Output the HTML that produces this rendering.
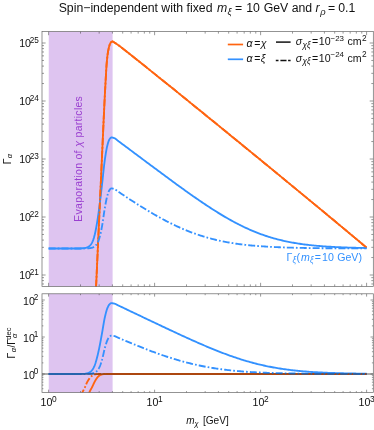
<!DOCTYPE html>
<html><head><meta charset="utf-8"><title>chart</title>
<style>html,body{margin:0;padding:0;background:#fff;}body{width:374px;height:430px;position:relative;overflow:hidden;font-family:"Liberation Sans",sans-serif;}</style>
</head><body>
<svg width="374" height="430" viewBox="0 0 374 430" style="position:absolute;left:0;top:0;will-change:transform">
<defs><clipPath id="c1"><rect x="42.0" y="31.6" width="331.3" height="254.79999999999998"/></clipPath><clipPath id="c2"><rect x="42.0" y="293.8" width="331.3" height="98.69999999999999"/></clipPath></defs>
<rect x="0" y="0" width="374" height="430" fill="#fff"/>
<rect x="48.75" y="31.6" width="63.849999999999994" height="254.79999999999998" fill="#DEC4F0"/>
<rect x="48.75" y="293.8" width="63.849999999999994" height="98.69999999999999" fill="#DEC4F0"/>
<g clip-path="url(#c1)" fill="none" stroke-width="1.85" stroke-linejoin="round">
<path d="M95.50,299.60 L95.65,296.34 L95.80,293.08 L95.94,289.82 L96.09,286.55 L96.24,283.29 L96.39,280.03 L96.54,276.77 L96.69,273.51 L96.83,270.25 L96.98,266.99 L97.13,263.73 L97.28,260.46 L97.43,257.20 L97.58,253.94 L97.72,250.68 L97.87,247.42 L98.02,244.16 L98.17,240.90 L98.32,237.64 L98.46,234.37 L98.61,231.11 L98.76,227.85 L98.91,224.59 L99.06,221.33 L99.21,218.07 L99.35,214.81 L99.50,211.54 L99.65,208.28 L99.80,205.02 L99.95,201.76 L100.10,198.50 L100.24,195.24 L100.39,191.98 L100.54,188.72 L100.69,185.45 L100.84,182.19 L100.98,178.93 L101.13,175.67 L101.28,172.41 L101.43,169.15 L101.58,165.89 L101.73,162.63 L101.87,159.36 L102.02,156.10 L102.17,152.84 L102.32,149.55 L102.47,146.25 L102.62,142.94 L102.76,139.62 L102.91,136.29 L103.06,132.98 L103.21,129.68 L103.36,126.39 L103.51,123.13 L103.65,119.90 L103.80,116.70 L103.95,113.55 L104.10,110.44 L104.25,107.37 L104.39,104.30 L104.54,101.27 L104.69,98.27 L104.84,95.32 L104.99,92.43 L105.14,89.62 L105.28,86.89 L105.43,84.20 L105.58,81.47 L105.73,78.74 L105.88,76.04 L106.03,73.40 L106.17,70.87 L106.32,68.46 L106.47,66.22 L106.62,64.18 L106.77,62.37 L106.91,60.78 L107.06,59.27 L107.21,57.87 L107.36,56.55 L107.51,55.34 L107.66,54.22 L107.80,53.20 L107.95,52.27 L108.10,51.44 L108.25,50.64 L108.40,49.86 L108.55,49.12 L108.69,48.42 L108.84,47.75 L108.99,47.12 L109.14,46.53 L109.29,45.98 L109.43,45.48 L109.58,45.02 L109.73,44.61 L109.88,44.25 L110.03,43.92 L110.18,43.61 L110.32,43.32 L110.47,43.04 L110.62,42.79 L110.77,42.56 L110.92,42.37 L111.07,42.20 L111.21,42.06 L111.36,41.96 L111.51,41.87 L111.66,41.78 L111.81,41.70 L111.95,41.63 L112.10,41.57 L112.25,41.53 L112.40,41.50 L112.55,41.50 L112.70,41.52 L112.84,41.57 L112.99,41.64 L113.14,41.72 L113.29,41.82 L113.44,41.92 L113.59,42.03 L113.73,42.13 L113.88,42.23 L114.03,42.32 L114.18,42.40 L114.33,42.49 L114.47,42.58 L114.62,42.67 L114.77,42.76 L114.92,42.85 L115.07,42.94 L115.22,43.03 L115.36,43.13 L115.51,43.22 L115.66,43.32 L115.81,43.41 L115.96,43.51 L116.11,43.61 L116.25,43.71 L116.40,43.80 L116.55,43.90 L116.70,44.00 L116.85,44.10 L116.99,44.20 L117.14,44.31 L117.29,44.41 L117.44,44.51 L117.59,44.61 L117.74,44.72 L117.88,44.82 L118.03,44.92 L118.18,45.03 L118.33,45.13 L118.48,45.24 L118.63,45.35 L118.77,45.45 L118.92,45.56 L119.07,45.67 L119.22,45.78 L119.37,45.89 L119.52,46.00 L119.66,46.11 L119.81,46.22 L119.96,46.34 L120.11,46.45 L120.26,46.56 L120.40,46.68 L120.55,46.79 L120.70,46.90 L120.85,47.02 L121.00,47.14 L121.15,47.25 L121.29,47.37 L121.44,47.48 L121.59,47.60 L121.74,47.72 L121.89,47.83 L122.04,47.95 L122.18,48.07 L122.33,48.19 L122.48,48.30 L122.63,48.42 L122.78,48.54 L122.92,48.66 L123.07,48.78 L123.22,48.89 L123.37,49.01 L123.52,49.13 L123.67,49.25 L123.81,49.37 L123.96,49.48 L124.11,49.60 L124.26,49.72 L124.41,49.83 L124.56,49.95 L124.70,50.07 L124.85,50.18 L125.00,50.30 L129.09,53.52 L133.19,56.77 L137.28,60.03 L141.38,63.30 L145.47,66.57 L149.57,69.85 L153.66,73.13 L157.76,76.41 L161.85,79.70 L165.95,82.99 L170.04,86.29 L174.14,89.59 L178.23,92.90 L182.33,96.21 L186.42,99.53 L190.52,102.85 L194.61,106.18 L198.71,109.50 L202.80,112.83 L206.90,116.16 L210.99,119.49 L215.09,122.82 L219.18,126.15 L223.28,129.49 L227.37,132.82 L231.47,136.16 L235.56,139.50 L239.66,142.84 L243.75,146.19 L247.85,149.53 L251.94,152.88 L256.04,156.23 L260.13,159.58 L264.23,162.94 L268.32,166.29 L272.42,169.65 L276.51,173.01 L280.61,176.38 L284.70,179.74 L288.80,183.11 L292.89,186.48 L296.99,189.85 L301.08,193.23 L305.18,196.60 L309.27,199.98 L313.37,203.37 L317.46,206.75 L321.56,210.14 L325.65,213.53 L329.75,216.92 L333.84,220.32 L337.94,223.72 L342.03,227.12 L346.13,230.53 L350.22,233.94 L354.32,237.35 L358.41,240.76 L362.51,244.18 L366.60,247.60" stroke="#FF6410"/>
<path d="M48.60,248.50 L53.80,248.50 L59.00,248.50 L64.20,248.50 L69.40,248.50 L74.60,248.50 L79.80,248.50 L85.00,248.03 L85.20,247.99 L85.39,247.95 L85.59,247.91 L85.78,247.86 L85.98,247.82 L86.17,247.76 L86.37,247.71 L86.56,247.65 L86.76,247.59 L86.96,247.52 L87.15,247.44 L87.35,247.37 L87.54,247.28 L87.74,247.19 L87.93,247.10 L88.13,246.99 L88.32,246.88 L88.52,246.76 L88.72,246.64 L88.91,246.50 L89.11,246.36 L89.30,246.20 L89.50,246.04 L89.69,245.86 L89.89,245.67 L90.08,245.47 L90.28,245.25 L90.47,245.03 L90.67,244.78 L90.87,244.52 L91.06,244.25 L91.26,243.95 L91.45,243.64 L91.65,243.31 L91.84,242.96 L92.04,242.59 L92.23,242.20 L92.43,241.78 L92.63,241.34 L92.82,240.87 L93.02,240.38 L93.21,239.86 L93.41,239.31 L93.60,238.73 L93.80,238.12 L93.99,237.47 L94.19,236.80 L94.39,236.08 L94.58,235.34 L94.78,234.55 L94.97,233.72 L95.17,232.86 L95.36,231.95 L95.56,231.01 L95.75,230.03 L95.95,229.01 L96.15,227.96 L96.34,226.88 L96.54,225.77 L96.73,224.64 L96.93,223.48 L97.12,222.29 L97.32,221.09 L97.51,219.85 L97.71,218.59 L97.91,217.31 L98.10,216.00 L98.30,214.66 L98.49,213.30 L98.69,211.91 L98.88,210.49 L99.08,209.04 L99.27,207.56 L99.47,206.06 L99.66,204.52 L99.86,202.96 L100.06,201.37 L100.25,199.76 L100.45,198.13 L100.64,196.48 L100.84,194.82 L101.03,193.15 L101.23,191.46 L101.42,189.76 L101.62,188.06 L101.82,186.36 L102.01,184.65 L102.21,182.92 L102.40,181.14 L102.60,179.32 L102.79,177.48 L102.99,175.63 L103.18,173.77 L103.38,171.93 L103.58,170.11 L103.77,168.33 L103.97,166.59 L104.16,164.91 L104.36,163.30 L104.55,161.77 L104.75,160.34 L104.94,158.99 L105.14,157.66 L105.34,156.36 L105.53,155.08 L105.73,153.84 L105.92,152.64 L106.12,151.48 L106.31,150.37 L106.51,149.31 L106.70,148.30 L106.90,147.36 L107.09,146.47 L107.29,145.66 L107.49,144.92 L107.68,144.20 L107.88,143.50 L108.07,142.82 L108.27,142.18 L108.46,141.58 L108.66,141.02 L108.85,140.51 L109.05,140.05 L109.25,139.65 L109.44,139.32 L109.64,139.05 L109.83,138.78 L110.03,138.52 L110.22,138.28 L110.42,138.05 L110.61,137.86 L110.81,137.69 L111.01,137.57 L111.20,137.49 L111.40,137.46 L111.59,137.47 L111.79,137.48 L111.98,137.50 L112.18,137.53 L112.37,137.57 L112.57,137.61 L112.77,137.65 L112.96,137.71 L113.16,137.76 L113.35,137.82 L113.55,137.89 L113.74,137.95 L113.94,138.02 L114.13,138.09 L114.33,138.17 L114.53,138.24 L114.72,138.32 L114.92,138.42 L115.11,138.53 L115.31,138.65 L115.50,138.78 L115.70,138.92 L115.89,139.07 L116.09,139.23 L116.28,139.39 L116.48,139.56 L116.68,139.73 L116.87,139.90 L117.07,140.06 L117.26,140.23 L117.46,140.40 L117.65,140.56 L117.85,140.71 L118.04,140.86 L118.24,141.00 L118.44,141.15 L118.63,141.30 L118.83,141.44 L119.02,141.59 L119.22,141.73 L119.41,141.88 L119.61,142.02 L119.80,142.17 L120.00,142.31 L121.24,143.23 L122.48,144.15 L123.72,145.08 L124.96,146.00 L126.20,146.92 L127.44,147.85 L128.67,148.77 L129.91,149.70 L131.15,150.62 L132.39,151.54 L133.63,152.47 L134.87,153.39 L136.11,154.32 L137.35,155.24 L138.59,156.17 L139.83,157.09 L141.07,158.02 L142.31,158.94 L143.54,159.87 L144.78,160.79 L146.02,161.72 L147.26,162.64 L148.50,163.56 L149.74,164.49 L150.98,165.41 L152.22,166.33 L153.46,167.25 L154.70,168.18 L155.94,169.10 L157.18,170.02 L158.42,170.94 L159.65,171.86 L160.89,172.79 L162.13,173.71 L163.37,174.62 L164.61,175.54 L165.85,176.46 L167.09,177.37 L168.33,178.29 L169.57,179.20 L170.81,180.11 L172.05,181.02 L173.29,181.93 L174.52,182.83 L175.76,183.74 L177.00,184.64 L178.24,185.54 L179.48,186.44 L180.72,187.33 L181.96,188.23 L183.20,189.12 L184.44,190.01 L185.68,190.89 L186.92,191.77 L188.16,192.66 L189.39,193.53 L190.63,194.41 L191.87,195.28 L193.11,196.15 L194.35,197.01 L195.59,197.87 L196.83,198.73 L198.07,199.58 L199.31,200.43 L200.55,201.28 L201.79,202.12 L203.03,202.96 L204.27,203.79 L205.50,204.62 L206.74,205.44 L207.98,206.26 L209.22,207.07 L210.46,207.88 L211.70,208.68 L212.94,209.48 L214.18,210.27 L215.42,211.05 L216.66,211.83 L217.90,212.60 L219.14,213.36 L220.37,214.12 L221.61,214.87 L222.85,215.61 L224.09,216.35 L225.33,217.08 L226.57,217.80 L227.81,218.51 L229.05,219.21 L230.29,219.91 L231.53,220.60 L232.77,221.28 L234.01,221.95 L235.25,222.61 L236.48,223.26 L237.72,223.91 L238.96,224.54 L240.20,225.16 L241.44,225.78 L242.68,226.39 L243.92,226.98 L245.16,227.57 L246.40,228.15 L247.64,228.71 L248.88,229.27 L250.12,229.82 L251.35,230.35 L252.59,230.88 L253.83,231.40 L255.07,231.90 L256.31,232.40 L257.55,232.89 L258.79,233.36 L260.03,233.83 L261.27,234.28 L262.51,234.73 L263.75,235.16 L264.99,235.59 L266.23,236.00 L267.46,236.41 L268.70,236.80 L269.94,237.19 L271.18,237.56 L272.42,237.93 L273.66,238.28 L274.90,238.63 L276.14,238.97 L277.38,239.29 L278.62,239.61 L279.86,239.92 L281.10,240.22 L282.33,240.52 L283.57,240.80 L284.81,241.07 L286.05,241.34 L287.29,241.60 L288.53,241.85 L289.77,242.09 L291.01,242.33 L292.25,242.56 L293.49,242.78 L294.73,242.99 L295.97,243.20 L297.21,243.40 L298.44,243.59 L299.68,243.78 L300.92,243.96 L302.16,244.13 L303.40,244.30 L304.64,244.46 L305.88,244.62 L307.12,244.77 L308.36,244.92 L309.60,245.06 L310.84,245.19 L312.08,245.32 L313.31,245.45 L314.55,245.57 L315.79,245.69 L317.03,245.80 L318.27,245.91 L319.51,246.01 L320.75,246.11 L321.99,246.21 L323.23,246.30 L324.47,246.39 L325.71,246.48 L326.95,246.56 L328.18,246.64 L329.42,246.72 L330.66,246.79 L331.90,246.86 L333.14,246.93 L334.38,246.99 L335.62,247.06 L336.86,247.12 L338.10,247.17 L339.34,247.23 L340.58,247.28 L341.82,247.33 L343.06,247.38 L344.29,247.43 L345.53,247.47 L346.77,247.52 L348.01,247.56 L349.25,247.60 L350.49,247.64 L351.73,247.67 L352.97,247.71 L354.21,247.74 L355.45,247.78 L356.69,247.81 L357.93,247.84 L359.16,247.86 L360.40,247.89 L361.64,247.92 L362.88,247.94 L364.12,247.97 L365.36,247.99 L366.60,248.01" stroke="#3391FF"/>
<path d="M95.50,299.60 L95.65,296.34 L95.80,293.08 L95.94,289.82 L96.09,286.55 L96.24,283.29 L96.39,280.03 L96.54,276.77 L96.69,273.51 L96.83,270.25 L96.98,266.99 L97.13,263.73 L97.28,260.46 L97.43,257.20 L97.58,253.94 L97.72,250.68 L97.87,247.42 L98.02,244.16 L98.17,240.90 L98.32,237.64 L98.46,234.37 L98.61,231.11 L98.76,227.85 L98.91,224.59 L99.06,221.33 L99.21,218.07 L99.35,214.81 L99.50,211.54 L99.65,208.28 L99.80,205.02 L99.95,201.76 L100.10,198.50 L100.24,195.24 L100.39,191.98 L100.54,188.72 L100.69,185.45 L100.84,182.19 L100.98,178.93 L101.13,175.67 L101.28,172.41 L101.43,169.15 L101.58,165.89 L101.73,162.63 L101.87,159.36 L102.02,156.10 L102.17,152.84 L102.32,149.55 L102.47,146.25 L102.62,142.94 L102.76,139.62 L102.91,136.29 L103.06,132.98 L103.21,129.68 L103.36,126.39 L103.51,123.13 L103.65,119.90 L103.80,116.70 L103.95,113.55 L104.10,110.44 L104.25,107.37 L104.39,104.30 L104.54,101.27 L104.69,98.27 L104.84,95.32 L104.99,92.43 L105.14,89.62 L105.28,86.89 L105.43,84.20 L105.58,81.47 L105.73,78.74 L105.88,76.04 L106.03,73.40 L106.17,70.87 L106.32,68.46 L106.47,66.22 L106.62,64.18 L106.77,62.37 L106.91,60.78 L107.06,59.27 L107.21,57.87 L107.36,56.55 L107.51,55.34 L107.66,54.22 L107.80,53.20 L107.95,52.27 L108.10,51.44 L108.25,50.64 L108.40,49.86 L108.55,49.12 L108.69,48.42 L108.84,47.75 L108.99,47.12 L109.14,46.53 L109.29,45.98 L109.43,45.48 L109.58,45.02 L109.73,44.61 L109.88,44.25 L110.03,43.92 L110.18,43.61 L110.32,43.32 L110.47,43.04 L110.62,42.79 L110.77,42.56 L110.92,42.37 L111.07,42.20 L111.21,42.06 L111.36,41.96 L111.51,41.87 L111.66,41.78 L111.81,41.70 L111.95,41.63 L112.10,41.57 L112.25,41.53 L112.40,41.50 L112.55,41.50 L112.70,41.52 L112.84,41.57 L112.99,41.64 L113.14,41.72 L113.29,41.82 L113.44,41.92 L113.59,42.03 L113.73,42.13 L113.88,42.23 L114.03,42.32 L114.18,42.40 L114.33,42.49 L114.47,42.58 L114.62,42.67 L114.77,42.76 L114.92,42.85 L115.07,42.94 L115.22,43.03 L115.36,43.13 L115.51,43.22 L115.66,43.32 L115.81,43.41 L115.96,43.51 L116.11,43.61 L116.25,43.71 L116.40,43.80 L116.55,43.90 L116.70,44.00 L116.85,44.10 L116.99,44.20 L117.14,44.31 L117.29,44.41 L117.44,44.51 L117.59,44.61 L117.74,44.72 L117.88,44.82 L118.03,44.92 L118.18,45.03 L118.33,45.13 L118.48,45.24 L118.63,45.35 L118.77,45.45 L118.92,45.56 L119.07,45.67 L119.22,45.78 L119.37,45.89 L119.52,46.00 L119.66,46.11 L119.81,46.22 L119.96,46.34 L120.11,46.45 L120.26,46.56 L120.40,46.68 L120.55,46.79 L120.70,46.90 L120.85,47.02 L121.00,47.14 L121.15,47.25 L121.29,47.37 L121.44,47.48 L121.59,47.60 L121.74,47.72 L121.89,47.83 L122.04,47.95 L122.18,48.07 L122.33,48.19 L122.48,48.30 L122.63,48.42 L122.78,48.54 L122.92,48.66 L123.07,48.78 L123.22,48.89 L123.37,49.01 L123.52,49.13 L123.67,49.25 L123.81,49.37 L123.96,49.48 L124.11,49.60 L124.26,49.72 L124.41,49.83 L124.56,49.95 L124.70,50.07 L124.85,50.18 L125.00,50.30 L129.09,53.52 L133.19,56.77 L137.28,60.03 L141.38,63.30 L145.47,66.57 L149.57,69.85 L153.66,73.13 L157.76,76.41 L161.85,79.70 L165.95,82.99 L170.04,86.29 L174.14,89.59 L178.23,92.90 L182.33,96.21 L186.42,99.53 L190.52,102.85 L194.61,106.18 L198.71,109.50 L202.80,112.83 L206.90,116.16 L210.99,119.49 L215.09,122.82 L219.18,126.15 L223.28,129.49 L227.37,132.82 L231.47,136.16 L235.56,139.50 L239.66,142.84 L243.75,146.19 L247.85,149.53 L251.94,152.88 L256.04,156.23 L260.13,159.58 L264.23,162.94 L268.32,166.29 L272.42,169.65 L276.51,173.01 L280.61,176.38 L284.70,179.74 L288.80,183.11 L292.89,186.48 L296.99,189.85 L301.08,193.23 L305.18,196.60 L309.27,199.98 L313.37,203.37 L317.46,206.75 L321.56,210.14 L325.65,213.53 L329.75,216.92 L333.84,220.32 L337.94,223.72 L342.03,227.12 L346.13,230.53 L350.22,233.94 L354.32,237.35 L358.41,240.76 L362.51,244.18 L366.60,247.60" stroke="#FF6410" stroke-dasharray="7.0 2.1 1.7 2.1"/>
<path d="M48.60,248.50 L53.80,248.50 L59.00,248.50 L64.20,248.50 L69.40,248.50 L74.60,248.50 L79.80,248.50 L85.00,248.44 L85.20,248.44 L85.39,248.43 L85.59,248.43 L85.78,248.42 L85.98,248.42 L86.17,248.41 L86.37,248.40 L86.56,248.40 L86.76,248.39 L86.96,248.38 L87.15,248.37 L87.35,248.36 L87.54,248.35 L87.74,248.34 L87.93,248.33 L88.13,248.31 L88.32,248.30 L88.52,248.28 L88.72,248.27 L88.91,248.25 L89.11,248.23 L89.30,248.21 L89.50,248.19 L89.69,248.16 L89.89,248.14 L90.08,248.11 L90.28,248.08 L90.47,248.05 L90.67,248.02 L90.87,247.98 L91.06,247.94 L91.26,247.90 L91.45,247.86 L91.65,247.81 L91.84,247.76 L92.04,247.70 L92.23,247.64 L92.43,247.58 L92.63,247.51 L92.82,247.44 L93.02,247.36 L93.21,247.28 L93.41,247.19 L93.60,247.09 L93.80,246.98 L93.99,246.87 L94.19,246.75 L94.39,246.62 L94.58,246.48 L94.78,246.33 L94.97,246.17 L95.17,245.99 L95.36,245.80 L95.56,245.60 L95.75,245.39 L95.95,245.15 L96.15,244.91 L96.34,244.65 L96.54,244.37 L96.73,244.08 L96.93,243.77 L97.12,243.44 L97.32,243.09 L97.51,242.73 L97.71,242.34 L97.91,241.93 L98.10,241.50 L98.30,241.04 L98.49,240.56 L98.69,240.05 L98.88,239.52 L99.08,238.95 L99.27,238.35 L99.47,237.72 L99.66,237.05 L99.86,236.35 L100.06,235.61 L100.25,234.83 L100.45,234.02 L100.64,233.18 L100.84,232.29 L101.03,231.38 L101.23,230.43 L101.42,229.45 L101.62,228.43 L101.82,227.39 L102.01,226.32 L102.21,225.20 L102.40,224.03 L102.60,222.80 L102.79,221.53 L102.99,220.22 L103.18,218.88 L103.38,217.53 L103.58,216.16 L103.77,214.80 L103.97,213.45 L104.16,212.13 L104.36,210.84 L104.55,209.61 L104.75,208.44 L104.94,207.32 L105.14,206.22 L105.34,205.12 L105.53,204.05 L105.73,202.99 L105.92,201.96 L106.12,200.96 L106.31,199.99 L106.51,199.06 L106.70,198.18 L106.90,197.34 L107.09,196.56 L107.29,195.84 L107.49,195.17 L107.68,194.53 L107.88,193.90 L108.07,193.29 L108.27,192.71 L108.46,192.17 L108.66,191.66 L108.85,191.19 L109.05,190.78 L109.25,190.42 L109.44,190.11 L109.64,189.86 L109.83,189.62 L110.03,189.38 L110.22,189.16 L110.42,188.95 L110.61,188.77 L110.81,188.62 L111.01,188.51 L111.20,188.44 L111.40,188.41 L111.59,188.41 L111.79,188.43 L111.98,188.45 L112.18,188.47 L112.37,188.50 L112.57,188.54 L112.77,188.59 L112.96,188.63 L113.16,188.69 L113.35,188.74 L113.55,188.80 L113.74,188.86 L113.94,188.92 L114.13,188.99 L114.33,189.05 L114.53,189.12 L114.72,189.20 L114.92,189.28 L115.11,189.38 L115.31,189.50 L115.50,189.62 L115.70,189.75 L115.89,189.89 L116.09,190.03 L116.28,190.18 L116.48,190.33 L116.68,190.48 L116.87,190.64 L117.07,190.79 L117.26,190.94 L117.46,191.09 L117.65,191.24 L117.85,191.38 L118.04,191.51 L118.24,191.65 L118.44,191.78 L118.63,191.91 L118.83,192.04 L119.02,192.17 L119.22,192.30 L119.41,192.44 L119.61,192.57 L119.80,192.70 L120.00,192.83 L121.24,193.66 L122.48,194.49 L123.72,195.32 L124.96,196.14 L126.20,196.96 L127.44,197.78 L128.67,198.59 L129.91,199.40 L131.15,200.21 L132.39,201.01 L133.63,201.81 L134.87,202.60 L136.11,203.39 L137.35,204.18 L138.59,204.96 L139.83,205.74 L141.07,206.52 L142.31,207.29 L143.54,208.05 L144.78,208.81 L146.02,209.56 L147.26,210.31 L148.50,211.05 L149.74,211.79 L150.98,212.52 L152.22,213.25 L153.46,213.97 L154.70,214.68 L155.94,215.39 L157.18,216.09 L158.42,216.79 L159.65,217.47 L160.89,218.16 L162.13,218.83 L163.37,219.50 L164.61,220.16 L165.85,220.81 L167.09,221.45 L168.33,222.09 L169.57,222.72 L170.81,223.34 L172.05,223.95 L173.29,224.55 L174.52,225.15 L175.76,225.73 L177.00,226.31 L178.24,226.88 L179.48,227.44 L180.72,227.99 L181.96,228.53 L183.20,229.06 L184.44,229.59 L185.68,230.10 L186.92,230.61 L188.16,231.11 L189.39,231.59 L190.63,232.07 L191.87,232.54 L193.11,233.00 L194.35,233.45 L195.59,233.89 L196.83,234.32 L198.07,234.75 L199.31,235.16 L200.55,235.57 L201.79,235.96 L203.03,236.35 L204.27,236.73 L205.50,237.09 L206.74,237.45 L207.98,237.81 L209.22,238.15 L210.46,238.48 L211.70,238.81 L212.94,239.12 L214.18,239.43 L215.42,239.73 L216.66,240.03 L217.90,240.31 L219.14,240.59 L220.37,240.86 L221.61,241.12 L222.85,241.37 L224.09,241.62 L225.33,241.86 L226.57,242.09 L227.81,242.31 L229.05,242.53 L230.29,242.74 L231.53,242.95 L232.77,243.15 L234.01,243.34 L235.25,243.53 L236.48,243.71 L237.72,243.88 L238.96,244.05 L240.20,244.21 L241.44,244.37 L242.68,244.52 L243.92,244.67 L245.16,244.81 L246.40,244.95 L247.64,245.09 L248.88,245.21 L250.12,245.34 L251.35,245.46 L252.59,245.57 L253.83,245.69 L255.07,245.79 L256.31,245.90 L257.55,246.00 L258.79,246.09 L260.03,246.19 L261.27,246.28 L262.51,246.36 L263.75,246.45 L264.99,246.53 L266.23,246.61 L267.46,246.68 L268.70,246.75 L269.94,246.82 L271.18,246.89 L272.42,246.95 L273.66,247.01 L274.90,247.07 L276.14,247.13 L277.38,247.18 L278.62,247.24 L279.86,247.29 L281.10,247.34 L282.33,247.38 L283.57,247.43 L284.81,247.47 L286.05,247.51 L287.29,247.55 L288.53,247.59 L289.77,247.63 L291.01,247.66 L292.25,247.70 L293.49,247.73 L294.73,247.76 L295.97,247.79 L297.21,247.82 L298.44,247.85 L299.68,247.88 L300.92,247.90 L302.16,247.93 L303.40,247.95 L304.64,247.97 L305.88,247.99 L307.12,248.02 L308.36,248.04 L309.60,248.06 L310.84,248.07 L312.08,248.09 L313.31,248.11 L314.55,248.12 L315.79,248.14 L317.03,248.16 L318.27,248.17 L319.51,248.18 L320.75,248.20 L321.99,248.21 L323.23,248.22 L324.47,248.23 L325.71,248.25 L326.95,248.26 L328.18,248.27 L329.42,248.28 L330.66,248.29 L331.90,248.29 L333.14,248.30 L334.38,248.31 L335.62,248.32 L336.86,248.33 L338.10,248.33 L339.34,248.34 L340.58,248.35 L341.82,248.36 L343.06,248.36 L344.29,248.37 L345.53,248.37 L346.77,248.38 L348.01,248.38 L349.25,248.39 L350.49,248.39 L351.73,248.40 L352.97,248.40 L354.21,248.41 L355.45,248.41 L356.69,248.41 L357.93,248.42 L359.16,248.42 L360.40,248.43 L361.64,248.43 L362.88,248.43 L364.12,248.43 L365.36,248.44 L366.60,248.44" stroke="#3391FF" stroke-dasharray="7.0 2.1 1.7 2.1"/>
</g>
<g clip-path="url(#c2)" fill="none" stroke-width="1.85" stroke-linejoin="round">
<path d="M88.30,396.00 L88.50,395.28 L88.70,394.57 L88.90,393.89 L89.10,393.25 L89.30,392.68 L89.49,392.16 L89.69,391.69 L89.89,391.24 L90.09,390.83 L90.29,390.43 L90.49,390.05 L90.69,389.68 L90.89,389.32 L91.09,388.97 L91.29,388.62 L91.49,388.26 L91.69,387.90 L91.88,387.52 L92.08,387.13 L92.28,386.73 L92.48,386.31 L92.68,385.89 L92.88,385.46 L93.08,385.03 L93.28,384.60 L93.48,384.17 L93.68,383.75 L93.88,383.33 L94.08,382.91 L94.27,382.51 L94.47,382.12 L94.67,381.75 L94.87,381.39 L95.07,381.03 L95.27,380.67 L95.47,380.32 L95.67,379.98 L95.87,379.65 L96.07,379.33 L96.27,379.02 L96.47,378.73 L96.66,378.45 L96.86,378.18 L97.06,377.92 L97.26,377.66 L97.46,377.41 L97.66,377.17 L97.86,376.94 L98.06,376.72 L98.26,376.51 L98.46,376.32 L98.66,376.14 L98.86,375.97 L99.05,375.81 L99.25,375.66 L99.45,375.51 L99.65,375.37 L99.85,375.24 L100.05,375.12 L100.25,375.02 L100.45,374.92 L100.65,374.84 L100.85,374.76 L101.05,374.69 L101.25,374.62 L101.44,374.55 L101.64,374.49 L101.84,374.44 L102.04,374.39 L102.24,374.35 L102.44,374.31 L102.64,374.28 L102.84,374.25 L103.04,374.22 L103.24,374.19 L103.44,374.17 L103.64,374.15 L103.83,374.12 L104.03,374.11 L104.23,374.09 L104.43,374.07 L104.63,374.06 L104.83,374.05 L105.03,374.05 L105.23,374.05 L105.43,374.04 L105.63,374.04 L105.83,374.03 L106.03,374.03 L106.22,374.03 L106.42,374.03 L106.62,374.02 L106.82,374.02 L107.02,374.02 L107.22,374.02 L107.42,374.01 L107.62,374.01 L107.82,374.01 L108.02,374.01 L108.22,374.01 L108.42,374.01 L108.61,374.00 L108.81,374.00 L109.01,374.00 L109.21,374.00 L109.41,374.00 L109.61,374.00 L109.81,374.00 L110.01,374.00 L110.21,374.00 L110.41,374.00 L110.61,374.00 L110.81,374.00 L111.00,374.00 L111.20,374.00 L111.40,374.00 L111.60,374.00 L111.80,374.00 L112.00,374.00 L196.87,374.00 L281.73,374.00 L366.60,374.00" stroke="#FF6410"/>
<path d="M48.60,374.00 L53.80,374.00 L59.00,374.00 L64.20,374.00 L69.40,374.00 L74.60,374.00 L79.80,374.00 L85.00,373.70 L85.20,373.67 L85.39,373.65 L85.59,373.62 L85.78,373.59 L85.98,373.56 L86.17,373.53 L86.37,373.50 L86.56,373.46 L86.76,373.42 L86.96,373.37 L87.15,373.33 L87.35,373.28 L87.54,373.22 L87.74,373.17 L87.93,373.10 L88.13,373.04 L88.32,372.97 L88.52,372.89 L88.72,372.81 L88.91,372.73 L89.11,372.63 L89.30,372.53 L89.50,372.43 L89.69,372.32 L89.89,372.20 L90.08,372.07 L90.28,371.93 L90.47,371.78 L90.67,371.63 L90.87,371.46 L91.06,371.29 L91.26,371.10 L91.45,370.90 L91.65,370.69 L91.84,370.47 L92.04,370.23 L92.23,369.98 L92.43,369.71 L92.63,369.43 L92.82,369.13 L93.02,368.82 L93.21,368.49 L93.41,368.14 L93.60,367.77 L93.80,367.38 L93.99,366.97 L94.19,366.53 L94.39,366.08 L94.58,365.60 L94.78,365.10 L94.97,364.57 L95.17,364.02 L95.36,363.44 L95.56,362.84 L95.75,362.21 L95.95,361.57 L96.15,360.90 L96.34,360.21 L96.54,359.50 L96.73,358.78 L96.93,358.04 L97.12,357.28 L97.32,356.51 L97.51,355.72 L97.71,354.92 L97.91,354.10 L98.10,353.26 L98.30,352.41 L98.49,351.54 L98.69,350.65 L98.88,349.75 L99.08,348.83 L99.27,347.88 L99.47,346.92 L99.66,345.94 L99.86,344.95 L100.06,343.94 L100.25,342.91 L100.45,341.87 L100.64,340.82 L100.84,339.76 L101.03,338.69 L101.23,337.61 L101.42,336.53 L101.62,335.45 L101.82,334.36 L102.01,333.27 L102.21,332.16 L102.40,331.03 L102.60,329.87 L102.79,328.69 L102.99,327.51 L103.18,326.33 L103.38,325.16 L103.58,323.99 L103.77,322.85 L103.97,321.75 L104.16,320.67 L104.36,319.65 L104.55,318.67 L104.75,317.76 L104.94,316.90 L105.14,316.05 L105.34,315.22 L105.53,314.41 L105.73,313.61 L105.92,312.85 L106.12,312.11 L106.31,311.40 L106.51,310.72 L106.70,310.08 L106.90,309.48 L107.09,308.91 L107.29,308.40 L107.49,307.92 L107.68,307.46 L107.88,307.02 L108.07,306.59 L108.27,306.18 L108.46,305.79 L108.66,305.43 L108.85,305.11 L109.05,304.82 L109.25,304.56 L109.44,304.35 L109.64,304.18 L109.83,304.01 L110.03,303.84 L110.22,303.68 L110.42,303.54 L110.61,303.42 L110.81,303.31 L111.01,303.23 L111.20,303.18 L111.40,303.17 L111.59,303.17 L111.79,303.18 L111.98,303.19 L112.18,303.21 L112.37,303.23 L112.57,303.26 L112.77,303.29 L112.96,303.32 L113.16,303.36 L113.35,303.40 L113.55,303.44 L113.74,303.48 L113.94,303.52 L114.13,303.57 L114.33,303.61 L114.53,303.66 L114.72,303.71 L114.92,303.77 L115.11,303.84 L115.31,303.92 L115.50,304.01 L115.70,304.10 L115.89,304.19 L116.09,304.29 L116.28,304.40 L116.48,304.50 L116.68,304.61 L116.87,304.72 L117.07,304.83 L117.26,304.93 L117.46,305.04 L117.65,305.14 L117.85,305.24 L118.04,305.33 L118.24,305.43 L118.44,305.52 L118.63,305.61 L118.83,305.70 L119.02,305.80 L119.22,305.89 L119.41,305.98 L119.61,306.07 L119.80,306.17 L120.00,306.26 L121.24,306.85 L122.48,307.44 L123.72,308.02 L124.96,308.61 L126.20,309.20 L127.44,309.79 L128.67,310.38 L129.91,310.97 L131.15,311.56 L132.39,312.15 L133.63,312.74 L134.87,313.33 L136.11,313.92 L137.35,314.51 L138.59,315.10 L139.83,315.69 L141.07,316.28 L142.31,316.87 L143.54,317.46 L144.78,318.05 L146.02,318.64 L147.26,319.23 L148.50,319.82 L149.74,320.40 L150.98,320.99 L152.22,321.58 L153.46,322.17 L154.70,322.76 L155.94,323.35 L157.18,323.94 L158.42,324.52 L159.65,325.11 L160.89,325.70 L162.13,326.29 L163.37,326.87 L164.61,327.46 L165.85,328.04 L167.09,328.63 L168.33,329.21 L169.57,329.79 L170.81,330.37 L172.05,330.95 L173.29,331.53 L174.52,332.11 L175.76,332.69 L177.00,333.26 L178.24,333.84 L179.48,334.41 L180.72,334.98 L181.96,335.55 L183.20,336.12 L184.44,336.68 L185.68,337.25 L186.92,337.81 L188.16,338.37 L189.39,338.93 L190.63,339.49 L191.87,340.05 L193.11,340.60 L194.35,341.15 L195.59,341.70 L196.83,342.25 L198.07,342.80 L199.31,343.34 L200.55,343.88 L201.79,344.41 L203.03,344.95 L204.27,345.48 L205.50,346.01 L206.74,346.53 L207.98,347.05 L209.22,347.57 L210.46,348.09 L211.70,348.60 L212.94,349.11 L214.18,349.61 L215.42,350.11 L216.66,350.61 L217.90,351.10 L219.14,351.58 L220.37,352.07 L221.61,352.55 L222.85,353.02 L224.09,353.49 L225.33,353.95 L226.57,354.41 L227.81,354.87 L229.05,355.32 L230.29,355.76 L231.53,356.20 L232.77,356.63 L234.01,357.06 L235.25,357.48 L236.48,357.90 L237.72,358.31 L238.96,358.71 L240.20,359.11 L241.44,359.51 L242.68,359.89 L243.92,360.27 L245.16,360.65 L246.40,361.02 L247.64,361.38 L248.88,361.73 L250.12,362.08 L251.35,362.42 L252.59,362.76 L253.83,363.09 L255.07,363.41 L256.31,363.73 L257.55,364.04 L258.79,364.34 L260.03,364.64 L261.27,364.93 L262.51,365.21 L263.75,365.49 L264.99,365.76 L266.23,366.03 L267.46,366.29 L268.70,366.54 L269.94,366.78 L271.18,367.02 L272.42,367.26 L273.66,367.48 L274.90,367.70 L276.14,367.92 L277.38,368.13 L278.62,368.33 L279.86,368.53 L281.10,368.72 L282.33,368.91 L283.57,369.09 L284.81,369.26 L286.05,369.43 L287.29,369.60 L288.53,369.76 L289.77,369.91 L291.01,370.06 L292.25,370.21 L293.49,370.35 L294.73,370.49 L295.97,370.62 L297.21,370.74 L298.44,370.87 L299.68,370.99 L300.92,371.10 L302.16,371.21 L303.40,371.32 L304.64,371.42 L305.88,371.52 L307.12,371.62 L308.36,371.71 L309.60,371.80 L310.84,371.89 L312.08,371.97 L313.31,372.05 L314.55,372.13 L315.79,372.21 L317.03,372.28 L318.27,372.35 L319.51,372.41 L320.75,372.48 L321.99,372.54 L323.23,372.60 L324.47,372.66 L325.71,372.71 L326.95,372.76 L328.18,372.81 L329.42,372.86 L330.66,372.91 L331.90,372.95 L333.14,373.00 L334.38,373.04 L335.62,373.08 L336.86,373.12 L338.10,373.15 L339.34,373.19 L340.58,373.22 L341.82,373.26 L343.06,373.29 L344.29,373.32 L345.53,373.35 L346.77,373.37 L348.01,373.40 L349.25,373.43 L350.49,373.45 L351.73,373.47 L352.97,373.50 L354.21,373.52 L355.45,373.54 L356.69,373.56 L357.93,373.58 L359.16,373.59 L360.40,373.61 L361.64,373.63 L362.88,373.64 L364.12,373.66 L365.36,373.67 L366.60,373.69" stroke="#3391FF"/>
<path d="M80.80,396.00 L80.99,395.54 L81.19,395.09 L81.38,394.64 L81.58,394.20 L81.77,393.76 L81.97,393.33 L82.16,392.91 L82.36,392.49 L82.55,392.08 L82.75,391.67 L82.94,391.28 L83.14,390.90 L83.33,390.52 L83.53,390.14 L83.72,389.76 L83.92,389.38 L84.11,389.00 L84.31,388.61 L84.50,388.21 L84.70,387.80 L84.89,387.38 L85.09,386.94 L85.28,386.48 L85.48,386.02 L85.67,385.55 L85.87,385.08 L86.06,384.61 L86.26,384.14 L86.45,383.68 L86.65,383.23 L86.84,382.80 L87.04,382.39 L87.23,382.01 L87.43,381.65 L87.62,381.31 L87.82,380.97 L88.01,380.64 L88.21,380.32 L88.40,380.01 L88.60,379.71 L88.79,379.42 L88.99,379.13 L89.18,378.86 L89.38,378.59 L89.57,378.34 L89.77,378.09 L89.96,377.86 L90.16,377.63 L90.35,377.41 L90.55,377.20 L90.74,376.98 L90.94,376.77 L91.13,376.57 L91.33,376.37 L91.52,376.19 L91.72,376.01 L91.91,375.84 L92.11,375.69 L92.30,375.54 L92.50,375.42 L92.69,375.30 L92.89,375.20 L93.08,375.10 L93.28,375.01 L93.47,374.92 L93.67,374.83 L93.86,374.75 L94.06,374.67 L94.25,374.60 L94.45,374.53 L94.64,374.47 L94.84,374.42 L95.03,374.37 L95.23,374.33 L95.42,374.30 L95.62,374.27 L95.81,374.24 L96.01,374.21 L96.20,374.19 L96.40,374.17 L96.59,374.14 L96.79,374.12 L96.98,374.11 L97.18,374.09 L97.37,374.08 L97.57,374.07 L97.76,374.06 L97.96,374.05 L98.15,374.05 L98.35,374.04 L98.54,374.04 L98.74,374.03 L98.93,374.03 L99.13,374.03 L99.32,374.02 L99.52,374.02 L99.71,374.02 L99.91,374.01 L100.10,374.01 L100.30,374.01 L100.49,374.01 L100.69,374.01 L100.88,374.00 L101.08,374.00 L101.27,374.00 L101.47,374.00 L101.66,374.00 L101.86,374.00 L102.05,374.00 L102.25,374.00 L102.44,374.00 L102.64,374.00 L102.83,374.00 L103.03,374.00 L103.22,374.00 L103.42,374.00 L103.61,374.00 L103.81,374.00 L104.00,374.00 L191.53,374.00 L279.07,374.00 L366.60,374.00" stroke="#FF6410" stroke-dasharray="7.0 2.1 1.7 2.1"/>
<path d="M48.60,374.00 L53.80,374.00 L59.00,374.00 L64.20,374.00 L69.40,374.00 L74.60,374.00 L79.80,374.00 L85.00,373.96 L85.20,373.96 L85.39,373.96 L85.59,373.95 L85.78,373.95 L85.98,373.95 L86.17,373.94 L86.37,373.94 L86.56,373.93 L86.76,373.93 L86.96,373.92 L87.15,373.92 L87.35,373.91 L87.54,373.90 L87.74,373.90 L87.93,373.89 L88.13,373.88 L88.32,373.87 L88.52,373.86 L88.72,373.85 L88.91,373.84 L89.11,373.83 L89.30,373.81 L89.50,373.80 L89.69,373.79 L89.89,373.77 L90.08,373.75 L90.28,373.73 L90.47,373.71 L90.67,373.69 L90.87,373.67 L91.06,373.64 L91.26,373.62 L91.45,373.59 L91.65,373.56 L91.84,373.53 L92.04,373.49 L92.23,373.45 L92.43,373.41 L92.63,373.37 L92.82,373.32 L93.02,373.27 L93.21,373.22 L93.41,373.16 L93.60,373.10 L93.80,373.03 L93.99,372.96 L94.19,372.88 L94.39,372.80 L94.58,372.71 L94.78,372.62 L94.97,372.51 L95.17,372.40 L95.36,372.28 L95.56,372.15 L95.75,372.01 L95.95,371.87 L96.15,371.71 L96.34,371.54 L96.54,371.36 L96.73,371.18 L96.93,370.98 L97.12,370.77 L97.32,370.55 L97.51,370.32 L97.71,370.07 L97.91,369.81 L98.10,369.53 L98.30,369.24 L98.49,368.94 L98.69,368.61 L98.88,368.27 L99.08,367.91 L99.27,367.53 L99.47,367.12 L99.66,366.70 L99.86,366.25 L100.06,365.78 L100.25,365.28 L100.45,364.76 L100.64,364.22 L100.84,363.66 L101.03,363.08 L101.23,362.47 L101.42,361.85 L101.62,361.20 L101.82,360.53 L102.01,359.85 L102.21,359.14 L102.40,358.39 L102.60,357.61 L102.79,356.79 L102.99,355.96 L103.18,355.11 L103.38,354.24 L103.58,353.37 L103.77,352.50 L103.97,351.64 L104.16,350.80 L104.36,349.98 L104.55,349.19 L104.75,348.44 L104.94,347.73 L105.14,347.03 L105.34,346.33 L105.53,345.64 L105.73,344.97 L105.92,344.31 L106.12,343.67 L106.31,343.05 L106.51,342.46 L106.70,341.90 L106.90,341.36 L107.09,340.87 L107.29,340.40 L107.49,339.98 L107.68,339.57 L107.88,339.17 L108.07,338.78 L108.27,338.41 L108.46,338.06 L108.66,337.74 L108.85,337.44 L109.05,337.18 L109.25,336.95 L109.44,336.75 L109.64,336.59 L109.83,336.44 L110.03,336.28 L110.22,336.14 L110.42,336.01 L110.61,335.90 L110.81,335.80 L111.01,335.73 L111.20,335.68 L111.40,335.67 L111.59,335.67 L111.79,335.68 L111.98,335.69 L112.18,335.71 L112.37,335.73 L112.57,335.75 L112.77,335.78 L112.96,335.81 L113.16,335.84 L113.35,335.88 L113.55,335.92 L113.74,335.95 L113.94,335.99 L114.13,336.04 L114.33,336.08 L114.53,336.12 L114.72,336.17 L114.92,336.22 L115.11,336.29 L115.31,336.36 L115.50,336.44 L115.70,336.52 L115.89,336.61 L116.09,336.70 L116.28,336.79 L116.48,336.89 L116.68,336.99 L116.87,337.09 L117.07,337.19 L117.26,337.28 L117.46,337.38 L117.65,337.47 L117.85,337.56 L118.04,337.65 L118.24,337.73 L118.44,337.81 L118.63,337.90 L118.83,337.98 L119.02,338.07 L119.22,338.15 L119.41,338.23 L119.61,338.32 L119.80,338.40 L120.00,338.49 L121.24,339.02 L122.48,339.54 L123.72,340.07 L124.96,340.60 L126.20,341.12 L127.44,341.64 L128.67,342.16 L129.91,342.68 L131.15,343.19 L132.39,343.70 L133.63,344.21 L134.87,344.72 L136.11,345.23 L137.35,345.73 L138.59,346.23 L139.83,346.72 L141.07,347.22 L142.31,347.71 L143.54,348.20 L144.78,348.68 L146.02,349.16 L147.26,349.64 L148.50,350.11 L149.74,350.58 L150.98,351.05 L152.22,351.51 L153.46,351.97 L154.70,352.43 L155.94,352.88 L157.18,353.33 L158.42,353.77 L159.65,354.21 L160.89,354.64 L162.13,355.07 L163.37,355.50 L164.61,355.92 L165.85,356.34 L167.09,356.75 L168.33,357.15 L169.57,357.55 L170.81,357.95 L172.05,358.34 L173.29,358.72 L174.52,359.10 L175.76,359.48 L177.00,359.84 L178.24,360.21 L179.48,360.56 L180.72,360.92 L181.96,361.26 L183.20,361.60 L184.44,361.94 L185.68,362.26 L186.92,362.59 L188.16,362.90 L189.39,363.21 L190.63,363.52 L191.87,363.82 L193.11,364.11 L194.35,364.40 L195.59,364.68 L196.83,364.96 L198.07,365.23 L199.31,365.49 L200.55,365.75 L201.79,366.00 L203.03,366.25 L204.27,366.49 L205.50,366.72 L206.74,366.95 L207.98,367.18 L209.22,367.40 L210.46,367.61 L211.70,367.82 L212.94,368.02 L214.18,368.22 L215.42,368.41 L216.66,368.59 L217.90,368.78 L219.14,368.95 L220.37,369.12 L221.61,369.29 L222.85,369.45 L224.09,369.61 L225.33,369.76 L226.57,369.91 L227.81,370.05 L229.05,370.19 L230.29,370.33 L231.53,370.46 L232.77,370.59 L234.01,370.71 L235.25,370.83 L236.48,370.94 L237.72,371.05 L238.96,371.16 L240.20,371.27 L241.44,371.37 L242.68,371.46 L243.92,371.56 L245.16,371.65 L246.40,371.74 L247.64,371.82 L248.88,371.90 L250.12,371.98 L251.35,372.06 L252.59,372.13 L253.83,372.20 L255.07,372.27 L256.31,372.34 L257.55,372.40 L258.79,372.47 L260.03,372.53 L261.27,372.58 L262.51,372.64 L263.75,372.69 L264.99,372.74 L266.23,372.79 L267.46,372.84 L268.70,372.88 L269.94,372.93 L271.18,372.97 L272.42,373.01 L273.66,373.05 L274.90,373.09 L276.14,373.13 L277.38,373.16 L278.62,373.19 L279.86,373.23 L281.10,373.26 L282.33,373.29 L283.57,373.32 L284.81,373.34 L286.05,373.37 L287.29,373.40 L288.53,373.42 L289.77,373.44 L291.01,373.47 L292.25,373.49 L293.49,373.51 L294.73,373.53 L295.97,373.55 L297.21,373.57 L298.44,373.58 L299.68,373.60 L300.92,373.62 L302.16,373.63 L303.40,373.65 L304.64,373.66 L305.88,373.68 L307.12,373.69 L308.36,373.70 L309.60,373.72 L310.84,373.73 L312.08,373.74 L313.31,373.75 L314.55,373.76 L315.79,373.77 L317.03,373.78 L318.27,373.79 L319.51,373.80 L320.75,373.81 L321.99,373.82 L323.23,373.82 L324.47,373.83 L325.71,373.84 L326.95,373.84 L328.18,373.85 L329.42,373.86 L330.66,373.86 L331.90,373.87 L333.14,373.87 L334.38,373.88 L335.62,373.89 L336.86,373.89 L338.10,373.89 L339.34,373.90 L340.58,373.90 L341.82,373.91 L343.06,373.91 L344.29,373.92 L345.53,373.92 L346.77,373.92 L348.01,373.93 L349.25,373.93 L350.49,373.93 L351.73,373.94 L352.97,373.94 L354.21,373.94 L355.45,373.94 L356.69,373.95 L357.93,373.95 L359.16,373.95 L360.40,373.95 L361.64,373.95 L362.88,373.96 L364.12,373.96 L365.36,373.96 L366.60,373.96" stroke="#3391FF" stroke-dasharray="7.0 2.1 1.7 2.1"/>
<path d="M42.0,374 L373.3,374" stroke="#111" stroke-width="0.7"/>
</g>
<path d="M48.60,286.4 v-3.6 M48.60,31.6 v3.6 M80.51,286.4 v-2.0 M80.51,31.6 v2.0 M99.17,286.4 v-2.0 M99.17,31.6 v2.0 M112.42,286.4 v-2.0 M112.42,31.6 v2.0 M122.69,286.4 v-2.0 M122.69,31.6 v2.0 M131.08,286.4 v-2.0 M131.08,31.6 v2.0 M138.18,286.4 v-2.0 M138.18,31.6 v2.0 M144.33,286.4 v-2.0 M144.33,31.6 v2.0 M149.75,286.4 v-2.0 M149.75,31.6 v2.0 M154.60,286.4 v-3.6 M154.60,31.6 v3.6 M186.51,286.4 v-2.0 M186.51,31.6 v2.0 M205.17,286.4 v-2.0 M205.17,31.6 v2.0 M218.42,286.4 v-2.0 M218.42,31.6 v2.0 M228.69,286.4 v-2.0 M228.69,31.6 v2.0 M237.08,286.4 v-2.0 M237.08,31.6 v2.0 M244.18,286.4 v-2.0 M244.18,31.6 v2.0 M250.33,286.4 v-2.0 M250.33,31.6 v2.0 M255.75,286.4 v-2.0 M255.75,31.6 v2.0 M260.60,286.4 v-3.6 M260.60,31.6 v3.6 M292.51,286.4 v-2.0 M292.51,31.6 v2.0 M311.17,286.4 v-2.0 M311.17,31.6 v2.0 M324.42,286.4 v-2.0 M324.42,31.6 v2.0 M334.69,286.4 v-2.0 M334.69,31.6 v2.0 M343.08,286.4 v-2.0 M343.08,31.6 v2.0 M350.18,286.4 v-2.0 M350.18,31.6 v2.0 M356.33,286.4 v-2.0 M356.33,31.6 v2.0 M361.75,286.4 v-2.0 M361.75,31.6 v2.0 M366.60,286.4 v-3.6 M366.60,31.6 v3.6 M42.0,283.98 h2.0 M373.3,283.98 h-2.0 M42.0,280.62 h2.0 M373.3,280.62 h-2.0 M42.0,277.65 h2.0 M373.3,277.65 h-2.0 M42.0,275.00 h3.6 M373.3,275.00 h-3.6 M42.0,257.54 h2.0 M373.3,257.54 h-2.0 M42.0,247.33 h2.0 M373.3,247.33 h-2.0 M42.0,240.08 h2.0 M373.3,240.08 h-2.0 M42.0,234.46 h2.0 M373.3,234.46 h-2.0 M42.0,229.87 h2.0 M373.3,229.87 h-2.0 M42.0,225.98 h2.0 M373.3,225.98 h-2.0 M42.0,222.62 h2.0 M373.3,222.62 h-2.0 M42.0,219.65 h2.0 M373.3,219.65 h-2.0 M42.0,217.00 h3.6 M373.3,217.00 h-3.6 M42.0,199.54 h2.0 M373.3,199.54 h-2.0 M42.0,189.33 h2.0 M373.3,189.33 h-2.0 M42.0,182.08 h2.0 M373.3,182.08 h-2.0 M42.0,176.46 h2.0 M373.3,176.46 h-2.0 M42.0,171.87 h2.0 M373.3,171.87 h-2.0 M42.0,167.98 h2.0 M373.3,167.98 h-2.0 M42.0,164.62 h2.0 M373.3,164.62 h-2.0 M42.0,161.65 h2.0 M373.3,161.65 h-2.0 M42.0,159.00 h3.6 M373.3,159.00 h-3.6 M42.0,141.54 h2.0 M373.3,141.54 h-2.0 M42.0,131.33 h2.0 M373.3,131.33 h-2.0 M42.0,124.08 h2.0 M373.3,124.08 h-2.0 M42.0,118.46 h2.0 M373.3,118.46 h-2.0 M42.0,113.87 h2.0 M373.3,113.87 h-2.0 M42.0,109.98 h2.0 M373.3,109.98 h-2.0 M42.0,106.62 h2.0 M373.3,106.62 h-2.0 M42.0,103.65 h2.0 M373.3,103.65 h-2.0 M42.0,101.00 h3.6 M373.3,101.00 h-3.6 M42.0,83.54 h2.0 M373.3,83.54 h-2.0 M42.0,73.33 h2.0 M373.3,73.33 h-2.0 M42.0,66.08 h2.0 M373.3,66.08 h-2.0 M42.0,60.46 h2.0 M373.3,60.46 h-2.0 M42.0,55.87 h2.0 M373.3,55.87 h-2.0 M42.0,51.98 h2.0 M373.3,51.98 h-2.0 M42.0,48.62 h2.0 M373.3,48.62 h-2.0 M42.0,45.65 h2.0 M373.3,45.65 h-2.0 M42.0,43.00 h3.6 M373.3,43.00 h-3.6" stroke="#444" stroke-width="0.55" fill="none"/>
<path d="M48.60,392.5 v-2.8 M48.60,293.8 v2.8 M80.51,392.5 v-1.4 M80.51,293.8 v1.4 M99.17,392.5 v-1.4 M99.17,293.8 v1.4 M112.42,392.5 v-1.4 M112.42,293.8 v1.4 M122.69,392.5 v-1.4 M122.69,293.8 v1.4 M131.08,392.5 v-1.4 M131.08,293.8 v1.4 M138.18,392.5 v-1.4 M138.18,293.8 v1.4 M144.33,392.5 v-1.4 M144.33,293.8 v1.4 M149.75,392.5 v-1.4 M149.75,293.8 v1.4 M154.60,392.5 v-2.8 M154.60,293.8 v2.8 M186.51,392.5 v-1.4 M186.51,293.8 v1.4 M205.17,392.5 v-1.4 M205.17,293.8 v1.4 M218.42,392.5 v-1.4 M218.42,293.8 v1.4 M228.69,392.5 v-1.4 M228.69,293.8 v1.4 M237.08,392.5 v-1.4 M237.08,293.8 v1.4 M244.18,392.5 v-1.4 M244.18,293.8 v1.4 M250.33,392.5 v-1.4 M250.33,293.8 v1.4 M255.75,392.5 v-1.4 M255.75,293.8 v1.4 M260.60,392.5 v-2.8 M260.60,293.8 v2.8 M292.51,392.5 v-1.4 M292.51,293.8 v1.4 M311.17,392.5 v-1.4 M311.17,293.8 v1.4 M324.42,392.5 v-1.4 M324.42,293.8 v1.4 M334.69,392.5 v-1.4 M334.69,293.8 v1.4 M343.08,392.5 v-1.4 M343.08,293.8 v1.4 M350.18,392.5 v-1.4 M350.18,293.8 v1.4 M356.33,392.5 v-1.4 M356.33,293.8 v1.4 M361.75,392.5 v-1.4 M361.75,293.8 v1.4 M366.60,392.5 v-2.8 M366.60,293.8 v2.8 M42.0,388.72 h1.4 M373.3,388.72 h-1.4 M42.0,385.14 h1.4 M373.3,385.14 h-1.4 M42.0,382.21 h1.4 M373.3,382.21 h-1.4 M42.0,379.73 h1.4 M373.3,379.73 h-1.4 M42.0,377.59 h1.4 M373.3,377.59 h-1.4 M42.0,375.69 h1.4 M373.3,375.69 h-1.4 M42.0,374.00 h2.8 M373.3,374.00 h-2.8 M42.0,362.86 h1.4 M373.3,362.86 h-1.4 M42.0,356.35 h1.4 M373.3,356.35 h-1.4 M42.0,351.72 h1.4 M373.3,351.72 h-1.4 M42.0,348.14 h1.4 M373.3,348.14 h-1.4 M42.0,345.21 h1.4 M373.3,345.21 h-1.4 M42.0,342.73 h1.4 M373.3,342.73 h-1.4 M42.0,340.59 h1.4 M373.3,340.59 h-1.4 M42.0,338.69 h1.4 M373.3,338.69 h-1.4 M42.0,337.00 h2.8 M373.3,337.00 h-2.8 M42.0,325.86 h1.4 M373.3,325.86 h-1.4 M42.0,319.35 h1.4 M373.3,319.35 h-1.4 M42.0,314.72 h1.4 M373.3,314.72 h-1.4 M42.0,311.14 h1.4 M373.3,311.14 h-1.4 M42.0,308.21 h1.4 M373.3,308.21 h-1.4 M42.0,305.73 h1.4 M373.3,305.73 h-1.4 M42.0,303.59 h1.4 M373.3,303.59 h-1.4 M42.0,301.69 h1.4 M373.3,301.69 h-1.4 M42.0,300.00 h2.8 M373.3,300.00 h-2.8" stroke="#444" stroke-width="0.55" fill="none"/>
<rect x="42.0" y="31.6" width="331.3" height="254.79999999999998" fill="none" stroke="#666" stroke-width="0.7"/>
<rect x="42.0" y="293.8" width="331.3" height="98.69999999999999" fill="none" stroke="#666" stroke-width="0.7"/>
<path d="M227.8,44.5 H243.1" stroke="#FF6410" stroke-width="1.7"/>
<path d="M227.8,59.3 H243.1" stroke="#3391FF" stroke-width="1.7"/>
<path d="M276,42.1 H290.6" stroke="#111" stroke-width="1.5"/>
<path d="M275.8,60.6 h2.7 m1.9,0 h6.1 m1.6,0 h2.5" stroke="#111" stroke-width="1.5"/>
<text x="38.9" y="274.7" font-family="Liberation Sans, sans-serif" font-size="8.2" text-anchor="end" fill="#111">21</text>
<text x="31.0" y="279.4" font-family="Liberation Sans, sans-serif" font-size="10.6" text-anchor="end" fill="#111">10</text>
<text x="38.9" y="216.7" font-family="Liberation Sans, sans-serif" font-size="8.2" text-anchor="end" fill="#111">22</text>
<text x="31.0" y="221.4" font-family="Liberation Sans, sans-serif" font-size="10.6" text-anchor="end" fill="#111">10</text>
<text x="38.9" y="158.7" font-family="Liberation Sans, sans-serif" font-size="8.2" text-anchor="end" fill="#111">23</text>
<text x="31.0" y="163.4" font-family="Liberation Sans, sans-serif" font-size="10.6" text-anchor="end" fill="#111">10</text>
<text x="38.9" y="100.7" font-family="Liberation Sans, sans-serif" font-size="8.2" text-anchor="end" fill="#111">24</text>
<text x="31.0" y="105.4" font-family="Liberation Sans, sans-serif" font-size="10.6" text-anchor="end" fill="#111">10</text>
<text x="38.9" y="42.7" font-family="Liberation Sans, sans-serif" font-size="8.2" text-anchor="end" fill="#111">25</text>
<text x="31.0" y="47.4" font-family="Liberation Sans, sans-serif" font-size="10.6" text-anchor="end" fill="#111">10</text>
<text x="38.2" y="374.4" font-family="Liberation Sans, sans-serif" font-size="8.2" text-anchor="end" fill="#111">0</text>
<text x="34.8" y="378.6" font-family="Liberation Sans, sans-serif" font-size="10.6" text-anchor="end" fill="#111">10</text>
<text x="38.2" y="337.4" font-family="Liberation Sans, sans-serif" font-size="8.2" text-anchor="end" fill="#111">1</text>
<text x="34.8" y="341.6" font-family="Liberation Sans, sans-serif" font-size="10.6" text-anchor="end" fill="#111">10</text>
<text x="38.2" y="300.4" font-family="Liberation Sans, sans-serif" font-size="8.2" text-anchor="end" fill="#111">2</text>
<text x="34.8" y="304.6" font-family="Liberation Sans, sans-serif" font-size="10.6" text-anchor="end" fill="#111">10</text>
<text x="52.300000000000004" y="405.9" font-family="Liberation Sans, sans-serif" font-size="10.6" text-anchor="end" fill="#111">10</text>
<text x="52.0" y="401.9" font-family="Liberation Sans, sans-serif" font-size="8.4" text-anchor="start" fill="#111">0</text>
<text x="158.29999999999998" y="405.9" font-family="Liberation Sans, sans-serif" font-size="10.6" text-anchor="end" fill="#111">10</text>
<text x="158.0" y="401.9" font-family="Liberation Sans, sans-serif" font-size="8.4" text-anchor="start" fill="#111">1</text>
<text x="264.3" y="405.9" font-family="Liberation Sans, sans-serif" font-size="10.6" text-anchor="end" fill="#111">10</text>
<text x="264.0" y="401.9" font-family="Liberation Sans, sans-serif" font-size="8.4" text-anchor="start" fill="#111">2</text>
<text x="370.3" y="405.9" font-family="Liberation Sans, sans-serif" font-size="10.6" text-anchor="end" fill="#111">10</text>
<text x="370.0" y="401.9" font-family="Liberation Sans, sans-serif" font-size="8.4" text-anchor="start" fill="#111">3</text>
<text x="58.7" y="12.4" font-family="Liberation Sans, sans-serif" font-size="12.28" fill="#111">Spin−independent with fixed <tspan font-style="italic" dx="1.2">m</tspan><tspan font-style="italic" font-size="9.4" dy="2.7" dx="0.3">ξ</tspan><tspan dy="-2.7" dx="-0.2"> =</tspan><tspan dx="0.7"> 10</tspan><tspan dx="0.4"> GeV and </tspan><tspan font-style="italic">r</tspan><tspan font-style="italic" font-size="9.4" dy="2.7" dx="0.6">ρ</tspan><tspan dy="-2.7" dx="-1.0"> =</tspan><tspan dx="-0.4"> 0.1</tspan></text>
<text x="246.4" y="47.4" font-family="Liberation Sans, sans-serif" font-size="10.6" font-style="italic" text-anchor="start" fill="#111">α</text>
<text x="254.2" y="47.4" font-family="Liberation Sans, sans-serif" font-size="10.6" text-anchor="start" fill="#111">=</text>
<text x="260.7" y="47.4" font-family="Liberation Sans, sans-serif" font-size="10.6" font-style="italic" text-anchor="start" fill="#111">χ</text>
<text x="246.4" y="62.0" font-family="Liberation Sans, sans-serif" font-size="10.6" font-style="italic" text-anchor="start" fill="#111">α</text>
<text x="254.2" y="62.0" font-family="Liberation Sans, sans-serif" font-size="10.6" text-anchor="start" fill="#111">=</text>
<text x="260.7" y="62.0" font-family="Liberation Sans, sans-serif" font-size="10.6" font-style="italic" text-anchor="start" fill="#111">ξ</text>
<text x="295.8" y="45.3" font-family="Liberation Sans, sans-serif" font-size="10.6" font-style="italic" text-anchor="start" fill="#111">σ</text>
<text x="302.6" y="47.8" font-family="Liberation Sans, sans-serif" font-size="8.2" font-style="italic" text-anchor="start" fill="#111">χξ</text>
<text x="311.9" y="45.3" font-family="Liberation Sans, sans-serif" font-size="10.6" text-anchor="start" fill="#111">=</text>
<text x="318.8" y="45.3" font-family="Liberation Sans, sans-serif" font-size="10.6" text-anchor="start" fill="#111">10</text>
<text x="330.6" y="41.199999999999996" font-family="Liberation Sans, sans-serif" font-size="7.9" text-anchor="start" fill="#111">−23</text>
<text x="347.4" y="45.3" font-family="Liberation Sans, sans-serif" font-size="10.6" text-anchor="start" fill="#111">cm</text>
<text x="361.9" y="41.199999999999996" font-family="Liberation Sans, sans-serif" font-size="8.3" text-anchor="start" fill="#111">2</text>
<text x="295.8" y="61.5" font-family="Liberation Sans, sans-serif" font-size="10.6" font-style="italic" text-anchor="start" fill="#111">σ</text>
<text x="302.6" y="64.0" font-family="Liberation Sans, sans-serif" font-size="8.2" font-style="italic" text-anchor="start" fill="#111">χξ</text>
<text x="311.9" y="61.5" font-family="Liberation Sans, sans-serif" font-size="10.6" text-anchor="start" fill="#111">=</text>
<text x="318.8" y="61.5" font-family="Liberation Sans, sans-serif" font-size="10.6" text-anchor="start" fill="#111">10</text>
<text x="330.6" y="57.4" font-family="Liberation Sans, sans-serif" font-size="7.9" text-anchor="start" fill="#111">−24</text>
<text x="347.4" y="61.5" font-family="Liberation Sans, sans-serif" font-size="10.6" text-anchor="start" fill="#111">cm</text>
<text x="361.9" y="57.4" font-family="Liberation Sans, sans-serif" font-size="8.3" text-anchor="start" fill="#111">2</text>
<text x="286.5" y="260.9" font-family="Liberation Sans, sans-serif" font-size="10.6" text-anchor="start" fill="#3391FF">Γ</text>
<text x="292.4" y="263.4" font-family="Liberation Sans, sans-serif" font-size="8.3" font-style="italic" text-anchor="start" fill="#3391FF">ξ</text>
<text x="296.6" y="260.9" font-family="Liberation Sans, sans-serif" font-size="10.6" text-anchor="start" fill="#3391FF">(</text>
<text x="301.0" y="260.9" font-family="Liberation Sans, sans-serif" font-size="10.6" font-style="italic" text-anchor="start" fill="#3391FF">m</text>
<text x="310.0" y="263.4" font-family="Liberation Sans, sans-serif" font-size="8.3" font-style="italic" text-anchor="start" fill="#3391FF">ξ</text>
<text x="314.8" y="260.9" font-family="Liberation Sans, sans-serif" font-size="10.6" text-anchor="start" fill="#3391FF">=</text>
<text x="322.0" y="260.9" font-family="Liberation Sans, sans-serif" font-size="10.6" text-anchor="start" fill="#3391FF">10</text>
<text x="337.2" y="260.9" font-family="Liberation Sans, sans-serif" font-size="10.6" text-anchor="start" fill="#3391FF">GeV)</text>
<text transform="translate(82.3,158.8) rotate(-90)" font-family="Liberation Sans, sans-serif" font-size="10.5" letter-spacing="0.27" text-anchor="middle" fill="#9A3FD0">Evaporation of <tspan font-style="italic" font-size="11.3">χ</tspan> particles</text>
<g transform="translate(10.9,164.15) rotate(-90)">
<text x="0" y="0" font-family="Liberation Sans, sans-serif" font-size="10.3" text-anchor="start" fill="#111">Γ</text>
<text x="6.0" y="0.9" font-family="Liberation Sans, sans-serif" font-size="7.4" font-style="italic" text-anchor="start" fill="#111">α</text>
</g>
<g transform="translate(14.8,358.5) rotate(-90)">
<text x="0" y="0" font-family="Liberation Sans, sans-serif" font-size="10.3" text-anchor="start" fill="#111">Γ</text>
<text x="6.3" y="1.2" font-family="Liberation Sans, sans-serif" font-size="7.4" font-style="italic" text-anchor="start" fill="#111">α</text>
<text x="10.9" y="0" font-family="Liberation Sans, sans-serif" font-size="10.3" text-anchor="start" fill="#111">/</text>
<text x="13.7" y="0" font-family="Liberation Sans, sans-serif" font-size="10.3" text-anchor="start" fill="#111">Γ</text>
<text x="20.4" y="2.0" font-family="Liberation Sans, sans-serif" font-size="7.4" font-style="italic" text-anchor="start" fill="#111">α</text>
<text x="18.8" y="-3.7" font-family="Liberation Sans, sans-serif" font-size="7.6" text-anchor="start" fill="#111">dec</text>
</g>
<text x="186.2" y="424.2" font-family="Liberation Sans, sans-serif" font-size="10" font-style="italic" text-anchor="start" fill="#111">m</text>
<text x="194.5" y="426.0" font-family="Liberation Sans, sans-serif" font-size="7.4" font-style="italic" text-anchor="start" fill="#111">χ</text>
<text x="202.9" y="424.2" font-family="Liberation Sans, sans-serif" font-size="10.1" text-anchor="start" fill="#111">[GeV]</text>
</svg>
</body></html>
